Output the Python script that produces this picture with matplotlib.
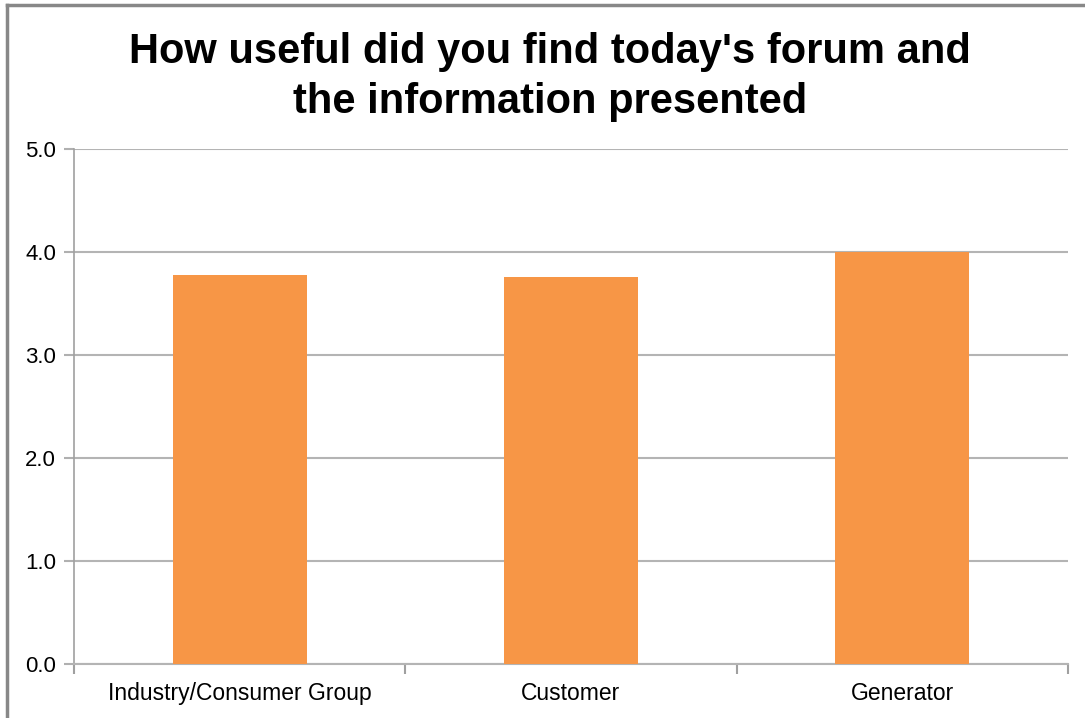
import matplotlib
matplotlib.use("Agg")
import matplotlib.pyplot as plt
from matplotlib.lines import Line2D

categories = ["Industry/Consumer Group", "Customer", "Generator"]
values = [3.78, 3.76, 4.0]
yticks = [0.0, 1.0, 2.0, 3.0, 4.0, 5.0]
title = "How useful did you find today's forum and\nthe information presented"

plt.rcParams['font.family'] = ['Liberation Sans', 'DejaVu Sans']

fig = plt.figure(figsize=(10.85, 7.18), dpi=100)
ax = fig.add_axes([74/1085, 1-664/718, (1068-74)/1085, (664-149)/718])

x = list(range(len(categories)))
ax.bar(x, values, width=0.405, color="#F79646", zorder=3)
ax.set_xlim(-0.5, len(categories) - 0.5)
ax.set_ylim(0, 5)
ax.set_yticks(yticks)
ax.set_yticklabels([f"{v:.1f}" for v in yticks], fontsize=16)
ax.set_xticks(x)
ax.set_xticklabels(categories, fontsize=16.5)
ax.set_xticks([i - 0.5 for i in range(len(categories) + 1)], minor=True)
ax.tick_params(axis='x', which='major', length=0, pad=13)
ax.tick_params(axis='x', which='minor', length=7, width=1.5, color="#a0a0a0")
ax.tick_params(axis='y', length=7, width=1.5, color="#b0b0b0", pad=6)
ax.grid(axis='y', color="#b4b4b4", linewidth=1.5, zorder=0)
for s in ['top', 'right']:
    ax.spines[s].set_visible(False)
ax.spines['left'].set_color("#a0a0a0")
ax.spines['left'].set_linewidth(1.2)
ax.spines['bottom'].set_color("#b4b4b4")
ax.spines['bottom'].set_linewidth(1.5)

fig.text(550/1085, 1 - 77/718, title, ha='center', va='center', fontsize=30,
         fontweight='bold', linespacing=1.32)

# chart area border (top and left visible)
fig.add_artist(Line2D([7/1085, 1.0], [1-5/718, 1-5/718], color="#888888", linewidth=2.5, transform=fig.transFigure))
fig.add_artist(Line2D([7/1085, 7/1085], [0, 1-5/718], color="#888888", linewidth=2.5, transform=fig.transFigure))

fig.savefig("out.png", dpi=100)
